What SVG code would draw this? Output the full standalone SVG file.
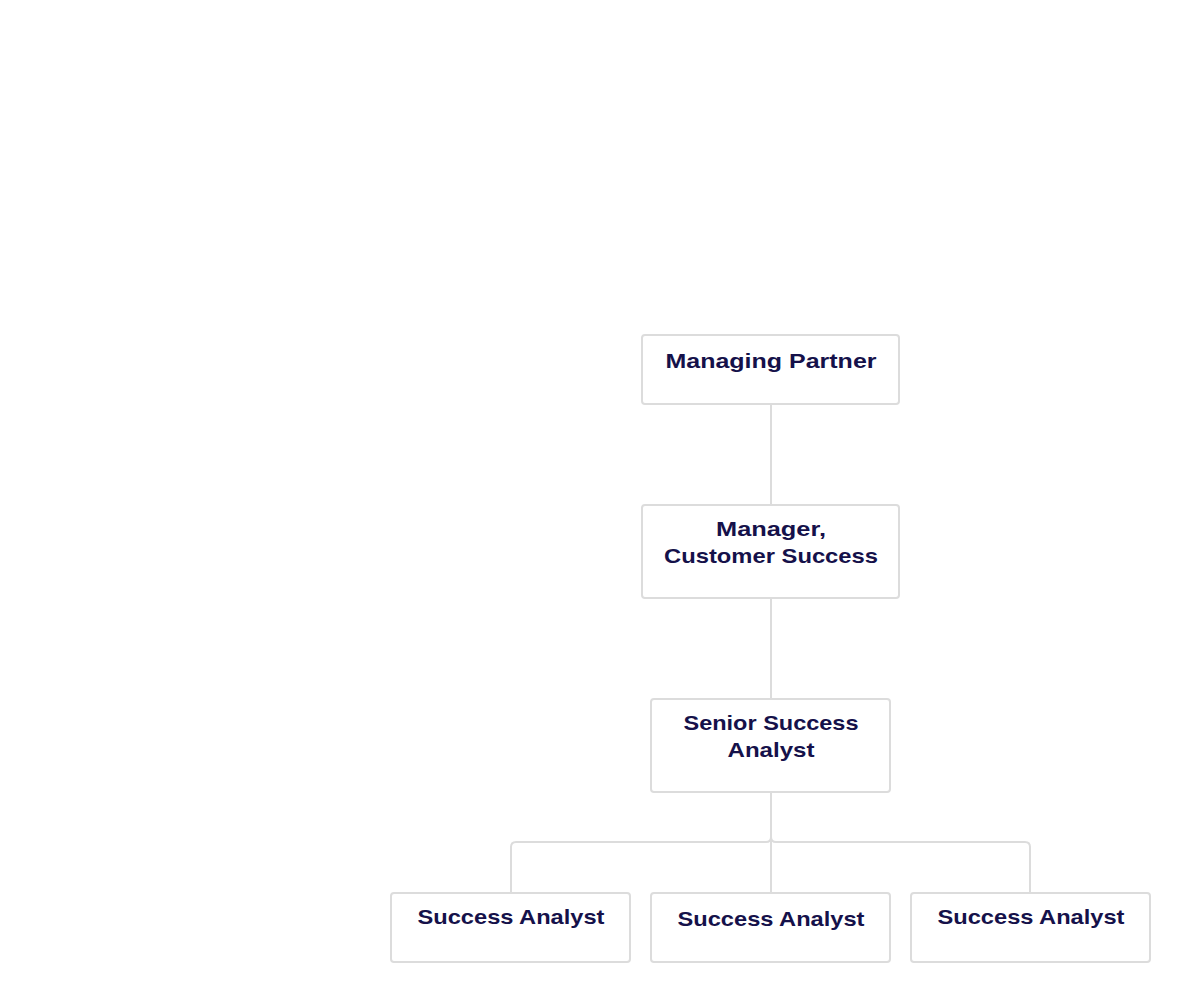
<svg xmlns="http://www.w3.org/2000/svg" width="1191" height="1003" viewBox="0 0 1191 1003">
  <style>
    .box { fill: #ffffff; stroke: #dcdcdc; stroke-width: 2; }
    .lbl { font-family: "Liberation Sans", Arial, sans-serif; font-weight: bold; font-size: 20.5px; fill: #15114a; text-anchor: middle; }
    .link { fill: none; stroke: #dcdcdc; stroke-width: 2; }
  </style>
  <rect width="1191" height="1003" fill="#ffffff"/>

  <g id="connectors">
    <path class="link" d="M771 404 V505"/>
    <path class="link" d="M771 598 V699"/>
    <path class="link" d="M771 792 V893"/>
    <path class="link" d="M771 792 V837 Q771 842 766 842 H516 Q511 842 511 847 V893"/>
    <path class="link" d="M771 792 V837 Q771 842 776 842 H1025 Q1030 842 1030 847 V893"/>
  </g>

  <g id="managing-partner">
    <rect class="box" x="642" y="335" width="257" height="69" rx="3"/>
    <text class="lbl" x="771" y="368" textLength="211" lengthAdjust="spacingAndGlyphs">Managing Partner</text>
  </g>

  <g id="manager-customer-success">
    <rect class="box" x="642" y="505" width="257" height="93" rx="3"/>
    <text class="lbl" x="771" y="536" textLength="110" lengthAdjust="spacingAndGlyphs">Manager,</text>
    <text class="lbl" x="771" y="563" textLength="214" lengthAdjust="spacingAndGlyphs">Customer Success</text>
  </g>

  <g id="senior-success-analyst">
    <rect class="box" x="651" y="699" width="239" height="93" rx="3"/>
    <text class="lbl" x="771" y="730" textLength="175" lengthAdjust="spacingAndGlyphs">Senior Success</text>
    <text class="lbl" x="771" y="757" textLength="87" lengthAdjust="spacingAndGlyphs">Analyst</text>
  </g>

  <g id="success-analyst-1">
    <rect class="box" x="391" y="893" width="239" height="69" rx="3"/>
    <text class="lbl" x="511" y="924" textLength="187" lengthAdjust="spacingAndGlyphs">Success Analyst</text>
  </g>

  <g id="success-analyst-2">
    <rect class="box" x="651" y="893" width="239" height="69" rx="3"/>
    <text class="lbl" x="771" y="926" textLength="187" lengthAdjust="spacingAndGlyphs">Success Analyst</text>
  </g>

  <g id="success-analyst-3">
    <rect class="box" x="911" y="893" width="239" height="69" rx="3"/>
    <text class="lbl" x="1031" y="924" textLength="187" lengthAdjust="spacingAndGlyphs">Success Analyst</text>
  </g>
</svg>
